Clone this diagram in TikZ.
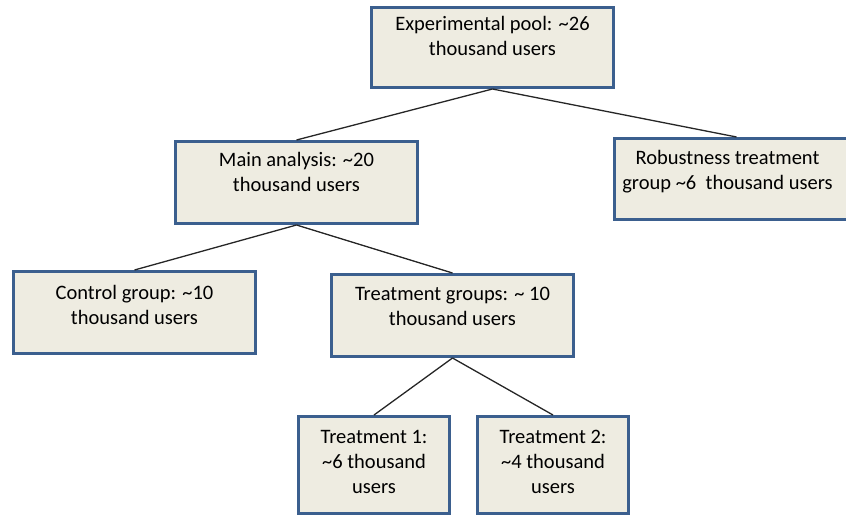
\documentclass[tikz,border=0pt]{standalone}
\usepackage{fontspec}
\setmainfont{Carlito}
\definecolor{boxfill}{HTML}{EEECE1}
\definecolor{boxline}{HTML}{3B5F8E}
\definecolor{linkcol}{HTML}{262626}
\begin{document}
\begin{tikzpicture}[x=1pt,y=-1pt,
  box/.style={draw=boxline, line width=3pt, fill=boxfill, anchor=north west, inner sep=0pt},
  txt/.style={anchor=north, align=center, inner sep=0pt, font=\fontsize{20.5}{25}\selectfont},
  link/.style={draw=linkcol, line width=1.3pt}]
\clip (0,0) rectangle (846,516);
\node[box, minimum width=242, minimum height=80] (pool) at (370,6) {};
\node[box, minimum width=242, minimum height=82] (main) at (174,140) {};
\node[box, minimum width=242, minimum height=81] (rob) at (613,137) {};
\node[box, minimum width=242, minimum height=82] (ctrl) at (12,270) {};
\node[box, minimum width=242, minimum height=82] (treat) at (330,273) {};
\node[box, minimum width=151, minimum height=97] (t1) at (297,415) {};
\node[box, minimum width=151, minimum height=97] (t2) at (476,415) {};
\node[txt] (pooltxt) at ([yshift=-10]pool.north) {Experimental pool: \textasciitilde26\\thousand users};
\node[txt] (maintxt) at ([yshift=-12]main.north) {Main analysis: \textasciitilde20\\thousand users};
\node[txt] (robtxt) at ([xshift=-8,yshift=-13]rob.north) {Robustness treatment\\group \textasciitilde6\ \ thousand users};
\node[txt] (ctrltxt) at ([yshift=-15]ctrl.north) {Control group: \textasciitilde10\\thousand users};
\node[txt] (treattxt) at ([yshift=-14]treat.north) {Treatment groups: \textasciitilde\ 10\\thousand users};
\node[txt] (t1txt) at ([yshift=-15]t1.north) {Treatment 1:\\\textasciitilde6 thousand\\users};
\node[txt] (t2txt) at ([yshift=-15]t2.north) {Treatment 2:\\\textasciitilde4 thousand\\users};
\draw[link] (pool.south) -- (main.north);
\draw[link] (pool.south) -- ([xshift=1]rob.north);
\draw[link] (main.south) -- (ctrl.north);
\draw[link] (main.south) -- (treat.north);
\draw[link] (treat.south) -- (t1.north);
\draw[link] (treat.south) -- (t2.north);
\end{tikzpicture}
\end{document}
